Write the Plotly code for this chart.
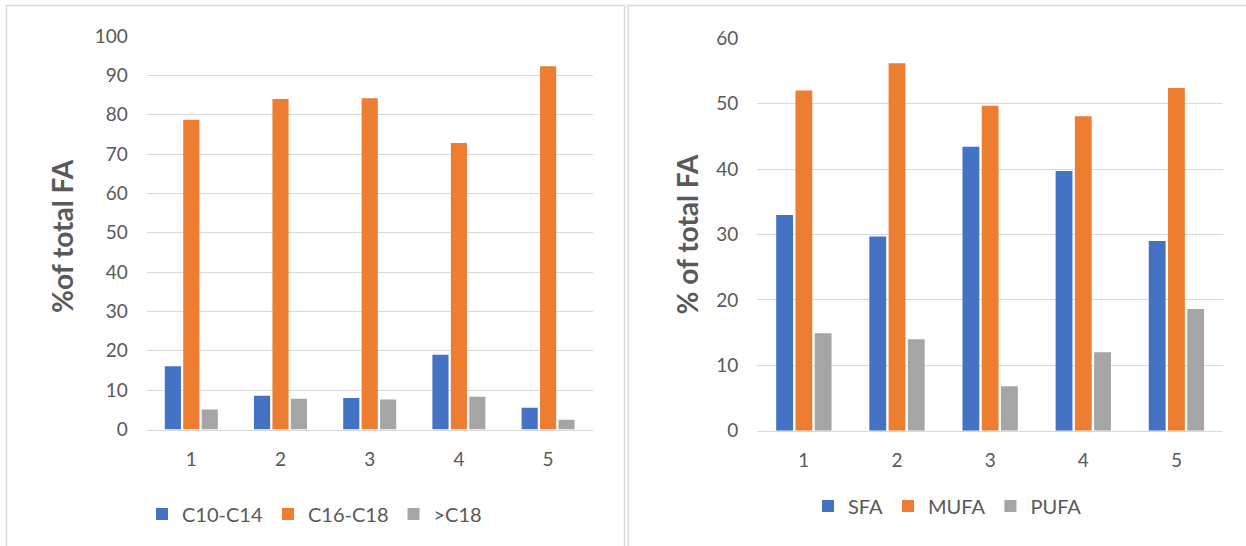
import plotly.graph_objects as go

categories = ["1", "2", "3", "4", "5"]

# Left chart: chain-length groups
c10_c14 = [16.1, 8.6, 8.0, 19.0, 5.5]
c16_c18 = [78.7, 84.0, 84.2, 72.8, 92.3]
gt_c18 = [5.1, 7.8, 7.6, 8.3, 2.5]

# Right chart: saturation groups
sfa = [33.0, 29.7, 43.4, 39.7, 29.0]
mufa = [52.0, 56.2, 49.7, 48.1, 52.4]
pufa = [14.9, 14.0, 6.8, 12.0, 18.6]

left_names = ["C10-C14", "C16-C18", ">C18"]
right_names = ["SFA", "MUFA", "PUFA"]
colors = ["#4472C4", "#ED7D31", "#A5A5A5"]

W, H = 1246, 546
FONT = "Lato"
TXT = "#595959"
GRID = "#D9D9D9"

def px_x(v):
    return v / W

def px_y(v):
    return 1 - v / H

fig = go.Figure()

for name, vals, col in zip(left_names, [c10_c14, c16_c18, gt_c18], colors):
    fig.add_trace(go.Bar(x=categories, y=vals, name=name, marker_color=col,
                         marker_line_width=0, xaxis="x", yaxis="y", legend="legend"))
for name, vals, col in zip(right_names, [sfa, mufa, pufa], colors):
    fig.add_trace(go.Bar(x=categories, y=vals, name=name, marker_color=col,
                         marker_line_width=0, xaxis="x2", yaxis="y2", legend="legend2"))

tickfont = dict(family=FONT, size=19, color=TXT)
legfont = dict(family=FONT, size=20, color=TXT)

xcommon = dict(type="category", showgrid=False, showline=True, linecolor=GRID,
               linewidth=1.5, ticks="", tickfont=tickfont, ticklabelstandoff=12,
               fixedrange=True, automargin=False)
ycommon = dict(showgrid=True, gridcolor=GRID, gridwidth=1, zeroline=False,
               showline=False, ticks="", tickfont=tickfont, dtick=10,
               ticklabelstandoff=18, fixedrange=True, automargin=False)

fig.update_layout(
    width=W, height=H, autosize=False,
    margin=dict(l=0, r=0, t=0, b=0, autoexpand=False),
    paper_bgcolor="white", plot_bgcolor="white",
    barmode="group", bargap=0.38, bargroupgap=0.125,
    xaxis=dict(domain=[px_x(146.7), px_x(592.7)], anchor="y", **xcommon),
    yaxis=dict(domain=[px_y(429.5), px_y(36.0)], anchor="x", range=[0, 100], **ycommon),
    xaxis2=dict(domain=[px_x(757.3), px_x(1223)], anchor="y2", **xcommon),
    yaxis2=dict(domain=[px_y(430.7), px_y(38.3)], anchor="x2", range=[0, 60], **ycommon),
    legend=dict(orientation="h", x=px_x(142), xanchor="left", y=px_y(514), yanchor="middle",
                font=legfont, bgcolor="rgba(0,0,0,0)", itemclick=False, itemdoubleclick=False),
    legend2=dict(orientation="h", x=px_x(808), xanchor="left", y=px_y(506), yanchor="middle",
                 font=legfont, bgcolor="rgba(0,0,0,0)", itemclick=False, itemdoubleclick=False),
    showlegend=True,
)

# axis titles
fig.add_annotation(text="<b>%of total FA</b>", textangle=-90, xref="paper", yref="paper",
                   x=px_x(62), y=px_y(236), showarrow=False,
                   font=dict(family=FONT, size=28, color=TXT), xanchor="center", yanchor="middle")
fig.add_annotation(text="<b>% of total FA</b>", textangle=-90, xref="paper", yref="paper",
                   x=px_x(686), y=px_y(234.5), showarrow=False,
                   font=dict(family=FONT, size=28, color=TXT), xanchor="center", yanchor="middle")

# hide top gridline (Excel-style chart has no line at the max)
fig.add_shape(type="line", xref="x domain", yref="y", x0=0, x1=1, y0=100, y1=100,
              line=dict(color="white", width=3), layer="above")
fig.add_shape(type="line", xref="x2 domain", yref="y2", x0=0, x1=1, y0=60, y1=60,
              line=dict(color="white", width=3), layer="above")

# panel borders
fig.add_shape(type="rect", xref="paper", yref="paper",
              x0=px_x(6.5), x1=px_x(624.5), y0=px_y(560), y1=px_y(5.5),
              line=dict(color=GRID, width=1.5), fillcolor="rgba(0,0,0,0)", layer="below")
fig.add_shape(type="rect", xref="paper", yref="paper",
              x0=px_x(628), x1=px_x(1260), y0=px_y(560), y1=px_y(5.5),
              line=dict(color=GRID, width=1.5), fillcolor="rgba(0,0,0,0)", layer="below")

page_fix = """
document.documentElement.style.margin = '0';
document.documentElement.style.overflow = 'hidden';
document.body.style.margin = '0';
document.body.style.padding = '0';
document.body.style.overflow = 'hidden';
var gd = document.getElementById('{plot_id}');
gd.style.position = 'absolute';
gd.style.left = '0px';
gd.style.top = '0px';
"""

fig.write_html("out.html", post_script=page_fix,
               config={"displayModeBar": False, "staticPlot": True})
